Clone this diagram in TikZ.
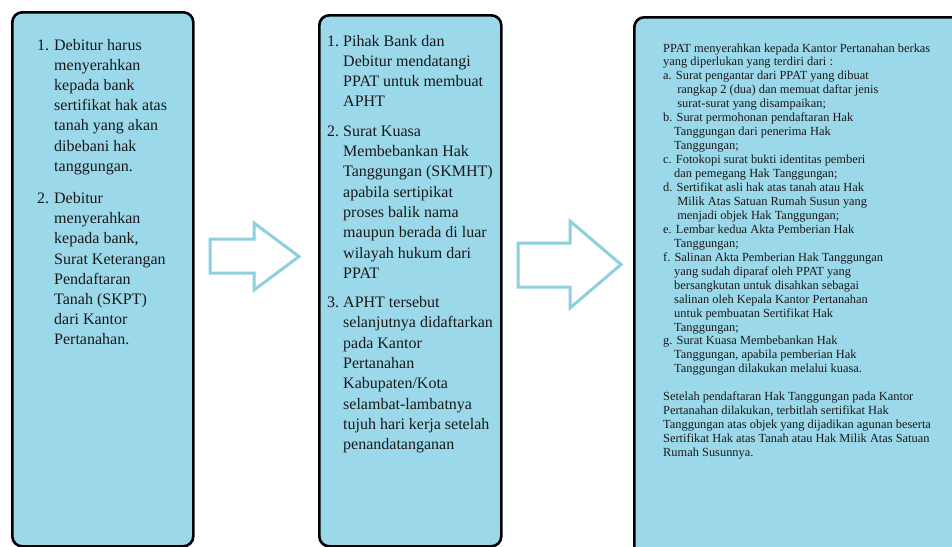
\documentclass[tikz,border=0pt]{standalone}
\usepackage{fontspec}
\setmainfont{Liberation Serif}
\usepackage{array}
\usetikzlibrary{positioning}

\definecolor{boxblue}{RGB}{155,216,234}
\definecolor{arrowblue}{RGB}{143,207,223}
\newcommand{\ctab}{\hspace*{11pt}}

\tikzset{
  stepbox/.style={draw=black, line width=2.6pt, fill=boxblue, rounded corners=10pt,
    anchor=north west, inner sep=0pt},
  steptext/.style={anchor=base west, inner sep=0pt, text=black!90,
    font=\fontsize{16}{20.2}\selectfont},
  notetext/.style={anchor=base west, inner sep=0pt, text=black!90,
    font=\fontsize{12.4}{13.95}\selectfont},
  flowarrow/.style={draw=arrowblue, line width=3pt, fill=white, line join=miter},
}

\begin{document}
\begin{tikzpicture}[x=1pt, y=-1pt]
\useasboundingbox (0,0) rectangle (952,546);
\clip (0,0) rectangle (952,546);
\fill[white] (0,0) rectangle (952,546);

% the three boxes
\node[stepbox, minimum width=181pt, minimum height=534pt] (boxone) at (11,11) {};
\node[stepbox, minimum width=182pt, minimum height=531pt] (boxtwo) at (318,14) {};
\node[stepbox, minimum width=340pt, minimum height=560pt] (boxthree) at (633,16) {};

% block arrows
\draw[flowarrow] (210,239) -- (254,239) -- (254,223) -- (299,256.5)
  -- (254,290) -- (254,273) -- (210,273) -- cycle;
\draw[flowarrow] (518,243) -- (570,243) -- (570,221) -- (621,264.5)
  -- (570,308) -- (570,287) -- (518,287) -- cycle;

% texts
\node[steptext] (textone) at (37,50) {\begin{tabular}[t]{@{}p{17pt}@{}l@{}}
1. & Debitur harus\\
   & menyerahkan\\
   & kepada bank\\
   & sertifikat hak atas\\
   & tanah yang akan\\
   & dibebani hak\\
   & tanggungan.\\[12pt]
2. & Debitur\\
   & menyerahkan\\
   & kepada bank,\\
   & Surat Keterangan\\
   & Pendaftaran\\
   & Tanah (SKPT)\\
   & dari Kantor\\
   & Pertanahan.
\end{tabular}};

\node[steptext, font=\fontsize{16}{20.3}\selectfont] (texttwo) at (327,46)
  {\begin{tabular}[t]{@{}p{16pt}@{}l@{}}
1. & Pihak Bank dan\\
   & Debitur mendatangi\\
   & PPAT untuk membuat\\
   & APHT\\[9pt]
2. & Surat Kuasa\\
   & Membebankan Hak\\
   & Tanggungan (SKMHT)\\
   & apabila sertipikat\\
   & proses balik nama\\
   & maupun berada di luar\\
   & wilayah hukum dari\\
   & PPAT\\[9pt]
3. & APHT tersebut\\
   & selanjutnya didaftarkan\\
   & pada Kantor\\
   & Pertanahan\\
   & Kabupaten/Kota\\
   & selambat-lambatnya\\
   & tujuh hari kerja setelah\\
   & penandatanganan
\end{tabular}};

\node[notetext] (textthree) at (663,52) {\begin{tabular}[t]{@{}l@{}}
PPAT menyerahkan kepada Kantor Pertanahan berkas\\
yang diperlukan yang terdiri dari :\\
a. Surat pengantar dari PPAT yang dibuat\\
\ctab\ rangkap 2 (dua) dan memuat daftar jenis\\
\ctab\ surat-surat yang disampaikan;\\
b. Surat permohonan pendaftaran Hak\\
\ctab Tanggungan dari penerima Hak\\
\ctab Tanggungan;\\
c. Fotokopi surat bukti identitas pemberi\\
\ctab dan pemegang Hak Tanggungan;\\
d. Sertifikat asli hak atas tanah atau Hak\\
\ctab\ Milik Atas Satuan Rumah Susun yang\\
\ctab\ menjadi objek Hak Tanggungan;\\
e. Lembar kedua Akta Pemberian Hak\\
\ctab Tanggungan;\\
f. Salinan Akta Pemberian Hak Tanggungan\\
\ctab yang sudah diparaf oleh PPAT yang\\
\ctab bersangkutan untuk disahkan sebagai\\
\ctab salinan oleh Kepala Kantor Pertanahan\\
\ctab untuk pembuatan Sertifikat Hak\\
\ctab Tanggungan;\\
g. Surat Kuasa Membebankan Hak\\
\ctab Tanggungan, apabila pemberian Hak\\
\ctab Tanggungan dilakukan melalui kuasa.\\
\\
Setelah pendaftaran Hak Tanggungan pada Kantor\\
Pertanahan dilakukan, terbitlah sertifikat Hak\\
Tanggungan atas objek yang dijadikan agunan beserta\\
Sertifikat Hak atas Tanah atau Hak Milik Atas Satuan\\
Rumah Susunnya.
\end{tabular}};
\end{tikzpicture}
\end{document}
